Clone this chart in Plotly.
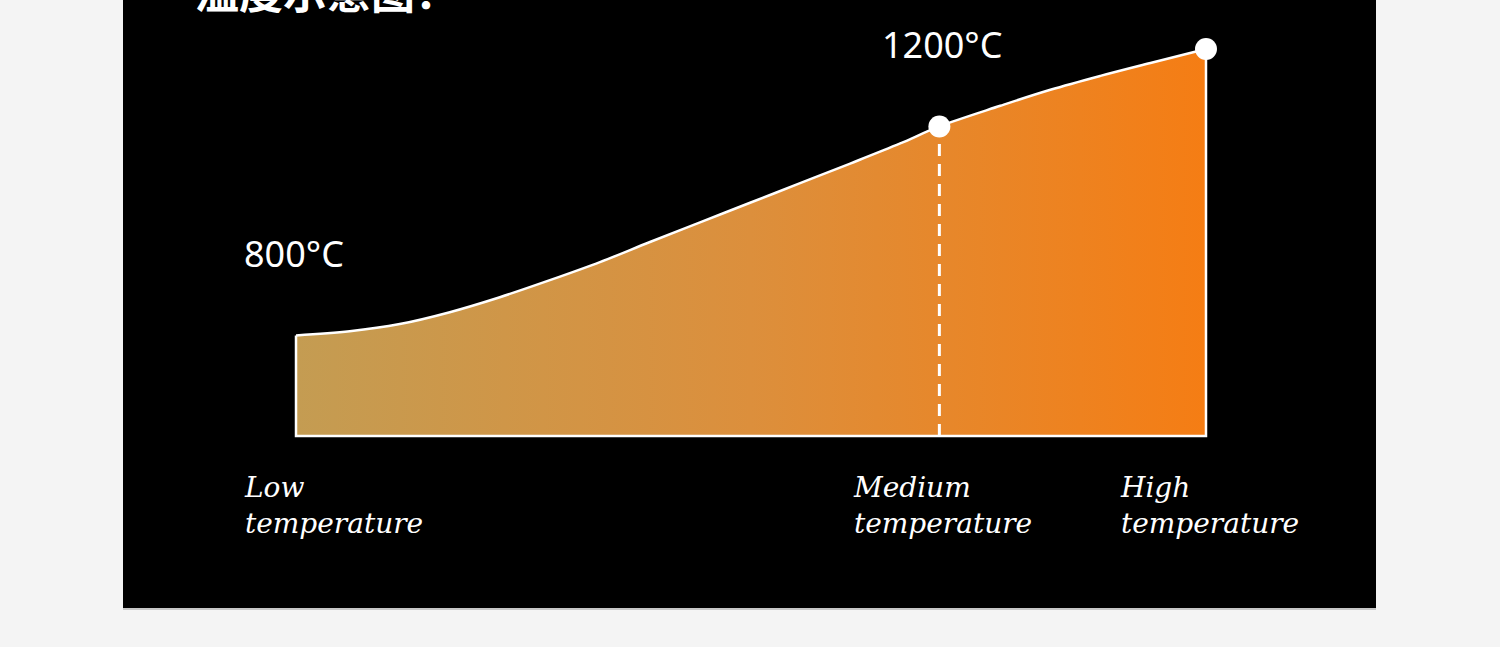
import plotly.graph_objects as go

# ---- data ----
curve_x = [0, 5.9, 11.4, 16.9, 22.4, 27.9, 33.4, 38.9, 44.4, 49.9, 55.4, 60.9, 66.4,
           70.7, 77.4, 82.9, 88.4, 93.9, 100]
curve_y = [795, 803, 817, 840, 869, 902, 937, 976, 1014, 1052, 1090, 1128, 1167,
           1200, 1240, 1271, 1298, 1323, 1350]
base_y = 600
point_x = [70.7, 100]
point_y = [1200, 1350]
temp_labels = ["800°C", "1200°C"]
temp_label_x = [-5.9, 64.2]
temp_label_y = [953, 1358]
cat_labels = ["Low<br>temperature", "Medium<br>temperature", "High<br>temperature"]
cat_x = [-5.9, 61.0, 90.3]
cat_y = 466
title_text = "温度示意图："

W, H = 1500, 647
# axis ranges spanning the whole figure
X_RANGE = [-32.53, 132.31]
Y_RANGE = [191.1, 1445.0]

fig = go.Figure()

# invisible baseline, then curve filled to it with gradient
fig.add_trace(go.Scatter(
    x=curve_x, y=[base_y] * len(curve_x), mode="lines",
    line=dict(width=0, color="rgba(0,0,0,0)"),
    hoverinfo="skip", showlegend=False,
))
fig.add_trace(go.Scatter(
    x=curve_x, y=curve_y, mode="lines", fill="tonexty",
    fillgradient=dict(type="horizontal",
                      colorscale=[[0, "#c49c52"], [0.5, "#dc8f3c"], [1, "#f57d14"]]),
    line=dict(color="white", width=2.5, shape="spline", smoothing=1.0),
    hoverinfo="skip", showlegend=False,
))
# white outline: left edge, base, right edge
fig.add_trace(go.Scatter(
    x=[curve_x[0], curve_x[0], curve_x[-1], curve_x[-1]],
    y=[curve_y[0], base_y, base_y, curve_y[-1]], mode="lines",
    line=dict(color="white", width=2.5),
    hoverinfo="skip", showlegend=False,
))
# dashed vertical line at medium
fig.add_trace(go.Scatter(
    x=[point_x[0], point_x[0]], y=[base_y, point_y[0]], mode="lines",
    line=dict(color="white", width=3, dash="12px,8px"),
    hoverinfo="skip", showlegend=False,
))
# points
fig.add_trace(go.Scatter(
    x=point_x, y=point_y, mode="markers",
    marker=dict(color="white", size=22),
    hoverinfo="skip", showlegend=False,
))

annotations = []
for t, x, y in zip(temp_labels, temp_label_x, temp_label_y):
    annotations.append(dict(x=x, y=y, xref="x", yref="y", text=t, showarrow=False,
                            xanchor="left", yanchor="middle",
                            font=dict(family="Noto Sans", size=36, color="white")))
for t, x in zip(cat_labels, cat_x):
    annotations.append(dict(x=x, y=cat_y, xref="x", yref="y", text="<i>" + t + "</i>",
                            showarrow=False, xanchor="left", yanchor="middle", align="left",
                            font=dict(family="DejaVu Serif", size=28, color="white")))
annotations.append(dict(x=193 / W, y=1 + 10 / H, xref="paper", yref="paper",
                        text="<b>" + title_text + "</b>", showarrow=False,
                        xanchor="left", yanchor="middle",
                        font=dict(family="Noto Sans CJK SC", size=44, color="white")))

fig.update_layout(
    width=W, height=H,
    margin=dict(l=0, r=0, t=0, b=0),
    paper_bgcolor="#f4f4f4",
    plot_bgcolor="rgba(0,0,0,0)",
    showlegend=False,
    xaxis=dict(domain=[0, 1], range=X_RANGE, visible=False, fixedrange=True),
    yaxis=dict(domain=[0, 1], range=Y_RANGE, visible=False, fixedrange=True),
    shapes=[
        dict(type="rect", xref="paper", yref="paper", x0=123 / W, x1=1376 / W,
             y0=1 - 608 / H, y1=1, fillcolor="black", line=dict(width=0), layer="below"),
        dict(type="line", xref="paper", yref="paper", x0=123 / W, x1=1376 / W,
             y0=1 - 609 / H, y1=1 - 609 / H, line=dict(color="#9a9a9a", width=1), layer="below"),
    ],
    annotations=annotations,
)

fig.write_html("out.html",
               config={"displayModeBar": False},
               post_script="document.body.style.margin='0';document.body.style.background='#f4f4f4';")
